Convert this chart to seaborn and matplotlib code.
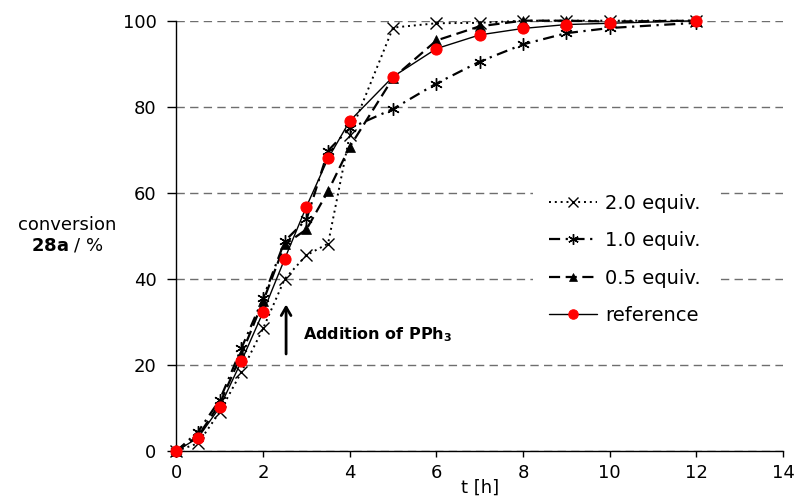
import matplotlib
matplotlib.use("Agg")
import matplotlib.pyplot as plt
import seaborn as sns
import pandas as pd

# Reaction time points [h]
t_hours = [0, 0.5, 1, 1.5, 2, 2.5, 3, 3.5, 4, 5, 6, 7, 8, 9, 10, 12]

# Conversion of 28a [%] for each PPh3 loading
conv_2_0 = [0, 1.8, 9.1, 18.4, 28.5, 40.0, 45.5, 48.2, 73.5, 98.4, 99.4, 99.5, 100, 100, 100, 100]
conv_1_0 = [0, 4.5, 11.9, 23.9, 35.5, 48.8, 53.8, 69.8, 75.0, 79.5, 85.4, 90.5, 94.5, 97.1, 98.3, 99.5]
conv_0_5 = [0, 3.5, 11.0, 22.5, 34.8, 48.0, 51.5, 60.4, 70.7, 86.7, 95.4, 98.7, 100, 100, 99.8, 100]
conv_ref = [0, 3.1, 10.2, 20.9, 32.3, 44.7, 56.8, 68.0, 76.7, 87.0, 93.5, 96.7, 98.2, 99.1, 99.4, 100]

series_labels = ["2.0 equiv.", "1.0 equiv.", "0.5 equiv.", "reference"]

x_ticks = [0, 2, 4, 6, 8, 10, 12, 14]
y_ticks = [0, 20, 40, 60, 80, 100]

sns.set_style("ticks")
plt.rcParams["font.family"] = ["DejaVu Sans"]
plt.rcParams["mathtext.fontset"] = "dejavusans"
plt.rcParams["text.color"] = "black"
plt.rcParams["axes.labelcolor"] = "black"

fig = plt.figure(figsize=(7.96, 4.96), dpi=100)
ax = fig.add_axes([0.2217, 0.0907, 0.9837 - 0.2217, 0.9583 - 0.0907])

df = pd.DataFrame({"t": t_hours, "c20": conv_2_0, "c10": conv_1_0,
                   "c05": conv_0_5, "ref": conv_ref})

common = dict(ax=ax, errorbar=None, clip_on=False, color="black")

sns.lineplot(data=df, x="t", y="c20", label=series_labels[0],
             linestyle=(0, (1, 2)), lw=1.4, marker="x", markersize=8,
             markeredgewidth=1.0, markeredgecolor="black", zorder=3, **common)
sns.lineplot(data=df, x="t", y="c10", label=series_labels[1],
             linestyle=(0, (5, 2.5, 1, 2.5)), lw=1.6, marker=(6, 2, 0),
             markersize=9, markeredgewidth=1.0, markeredgecolor="black",
             zorder=4, **common)
sns.lineplot(data=df, x="t", y="c05", label=series_labels[2],
             linestyle=(0, (5, 2.5)), lw=1.6, marker="^", markersize=7.5,
             markeredgewidth=0.5, markeredgecolor="black", markerfacecolor="black",
             zorder=5, **common)
sns.lineplot(data=df, x="t", y="ref", label=series_labels[3],
             linestyle="-", lw=1.0, marker="o", markersize=8,
             markerfacecolor="#ff0000", markeredgecolor="#ff0000",
             zorder=6, **common)

ax.set_xlim(0, 14)
ax.set_ylim(0, 100)
ax.set_xticks(x_ticks)
ax.set_yticks(y_ticks)
ax.set_xticklabels([str(v) for v in x_ticks])
ax.set_yticklabels([str(v) for v in y_ticks])

ax.yaxis.grid(True, linestyle=(0, (6, 3.8)), color="#6e6e6e", lw=1.0)
ax.xaxis.grid(False)
ax.set_axisbelow(True)

for side in ("top", "right"):
    ax.spines[side].set_visible(False)
for side in ("left", "bottom"):
    ax.spines[side].set_color("black")
    ax.spines[side].set_linewidth(1.0)

ax.tick_params(axis="y", direction="out", length=6.3, width=1.0,
               pad=8, labelsize=13, colors="black")
ax.tick_params(axis="x", direction="out", length=4.5, width=1.0,
               pad=5, labelsize=13, colors="black")

ax.set_xlabel("t [h]", fontsize=13, va="center", color="black")
ax.xaxis.set_label_coords(0.5, (451 - 488) / 430.3)
ax.set_ylabel("")

fig.text(67 / 796, 1 - 225 / 496, "conversion", fontsize=13,
         ha="center", va="center", color="black")
fig.text(67 / 796, 1 - 246 / 496, r"$\mathbf{28a}$ / %", fontsize=13,
         ha="center", va="center", color="black")

# PPh3 addition marker
ax.annotate("", xy=(2.53, 34.7), xytext=(2.53, 21.9),
            arrowprops=dict(arrowstyle="->,head_width=0.35,head_length=0.6",
                            lw=2.0, color="black"))
ax.text(2.92, 27.0, r"Addition of PPh$_\mathbf{3}$", fontsize=11.5,
        fontweight="bold", ha="left", va="center", color="black")

leg = ax.legend(loc="upper left", bbox_to_anchor=(0.670, 0.641),
                bbox_transform=fig.transFigure, fontsize=14,
                frameon=True, fancybox=False, framealpha=1.0,
                facecolor="white", edgecolor="none", markerscale=0.85,
                handlelength=2.5, handletextpad=0.4, labelspacing=0.95,
                borderpad=0.8, borderaxespad=0.0)
for txt in leg.get_texts():
    txt.set_color("black")

fig.savefig("out.png", dpi=100)
